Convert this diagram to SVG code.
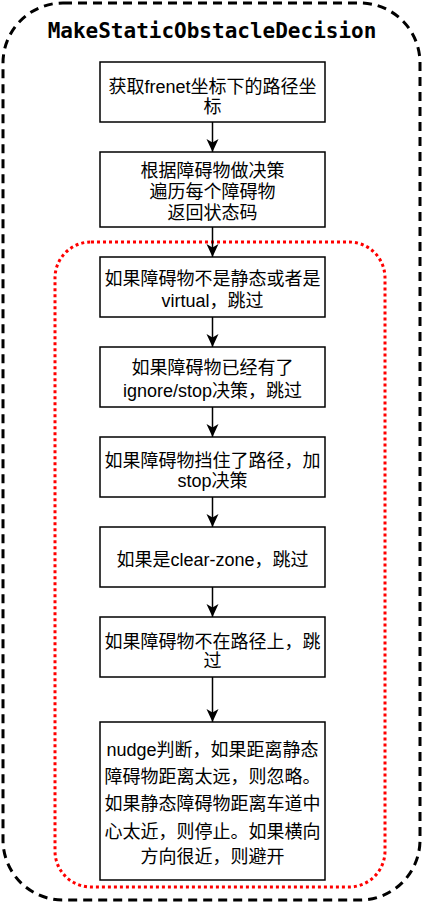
<svg xmlns="http://www.w3.org/2000/svg" width="423" height="903" viewBox="0 0 423 903">
<style>
.box{fill:#fff;stroke:#000;stroke-width:1.5}
.t{font-family:"Liberation Sans","Noto Sans CJK SC",sans-serif;font-size:18px;fill:#000;text-anchor:middle}
.title{font-family:"DejaVu Sans Mono",monospace;font-size:21px;font-weight:bold;fill:#000;text-anchor:middle}
.con{stroke:#000;stroke-width:1.5;fill:none;marker-end:url(#arr)}
</style>
<defs>
<marker id="arr" markerWidth="14" markerHeight="14" refX="13" refY="7" orient="auto" markerUnits="userSpaceOnUse">
<path d="M0,1 L13,7 L0,13 L3.5,7 Z" fill="#000"/>
</marker>
</defs>
<rect id="outer" x="3" y="3" width="417" height="897" rx="60" ry="60" fill="#fff" stroke="#000" stroke-width="3" stroke-dasharray="9 6"/>
<text class="title" x="212" y="38">MakeStaticObstacleDecision</text>
<rect id="loop" x="55" y="242" width="330" height="645" rx="36" ry="36" fill="none" stroke="#ff0000" stroke-width="3" stroke-dasharray="3 3"/>
<g id="connectors">
<line class="con" x1="212.5" y1="122" x2="212.5" y2="152"/>
<line class="con" x1="212.5" y1="227" x2="212.5" y2="257"/>
<line class="con" x1="212.5" y1="317" x2="212.5" y2="347"/>
<line class="con" x1="212.5" y1="407" x2="212.5" y2="437"/>
<line class="con" x1="212.5" y1="497" x2="212.5" y2="527"/>
<line class="con" x1="212.5" y1="587" x2="212.5" y2="617"/>
<line class="con" x1="212.5" y1="677" x2="212.5" y2="722"/>
</g>
<g id="n1">
<rect class="box" x="100" y="62" width="225" height="60"/>
<text class="t" x="212.5" y="93">获取frenet坐标下的路径坐</text>
<text class="t" x="212.5" y="113">标</text>
</g>
<g id="n2">
<rect class="box" x="100" y="152" width="225" height="75"/>
<text class="t" x="212.5" y="177">根据障碍物做决策</text>
<text class="t" x="212.5" y="198">遍历每个障碍物</text>
<text class="t" x="212.5" y="219">返回状态码</text>
</g>
<g id="n3">
<rect class="box" x="100" y="257" width="225" height="60"/>
<text class="t" x="212.5" y="284.5">如果障碍物不是静态或者是</text>
<text class="t" x="212.5" y="306.5">virtual，跳过</text>
</g>
<g id="n4">
<rect class="box" x="100" y="347" width="225" height="60"/>
<text class="t" x="212.5" y="373.5">如果障碍物已经有了</text>
<text class="t" x="212.5" y="397">ignore/stop决策，跳过</text>
</g>
<g id="n5">
<rect class="box" x="100" y="437" width="225" height="60"/>
<text class="t" x="212.5" y="466.5">如果障碍物挡住了路径，加</text>
<text class="t" x="212.5" y="487">stop决策</text>
</g>
<g id="n6">
<rect class="box" x="100" y="527" width="225" height="60"/>
<text class="t" x="212.5" y="565.5">如果是clear-zone，跳过</text>
</g>
<g id="n7">
<rect class="box" x="100" y="617" width="225" height="60"/>
<text class="t" x="212.5" y="647.5">如果障碍物不在路径上，跳</text>
<text class="t" x="212.5" y="667">过</text>
</g>
<g id="n8">
<rect class="box" x="100" y="722" width="225" height="158"/>
<text class="t" x="212.5" y="756">nudge判断，如果距离静态</text>
<text class="t" x="212.5" y="783">障碍物距离太远，则忽略。</text>
<text class="t" x="212.5" y="810">如果静态障碍物距离车道中</text>
<text class="t" x="212.5" y="837.5">心太近，则停止。如果横向</text>
<text class="t" x="212.5" y="863">方向很近，则避开</text>
</g>
</svg>
